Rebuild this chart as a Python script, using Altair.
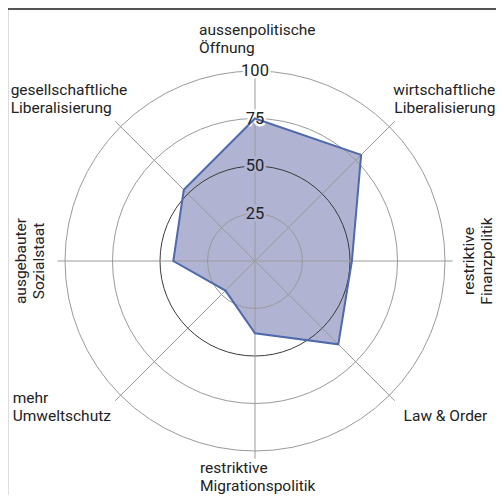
import altair as alt
import pandas as pd
import numpy as np

# ---- data ----
categories = [
    "aussenpolitische\nÖffnung",
    "wirtschaftliche\nLiberalisierung",
    "restriktive\nFinanzpolitik",
    "Law & Order",
    "restriktive\nMigrationspolitik",
    "mehr\nUmweltschutz",
    "ausgebauter\nSozialstaat",
    "gesellschaftliche\nLiberalisierung",
]
values = [75, 79, 51, 62, 38, 22, 43, 53]
ring_values = [25, 50, 75, 100]
tick_labels = ["25", "50", "75", "100"]

# ---- geometry ----
W, H = 488, 487
CX, CY = 247, 253          # centre of the radar in chart pixels
K = 1.9                    # pixels per unit
FONT = "Roboto"
FS = 15.5
LAV = "#b0b3d2"
BLUE = "#4f69ad"
GRID = "#9a9a9a"
TXT = "#222222"

xs = alt.Scale(domain=[-CX / K, (W - CX) / K], range=[0, W], nice=False, zero=False)
ys = alt.Scale(domain=[-(H - CY) / K, CY / K], range=[H, 0], nice=False, zero=False)

n = len(categories)
ang = np.arange(n) * 2 * np.pi / n
df = pd.DataFrame({"cat": categories, "value": values, "order": np.arange(n)})
df["x"] = df["value"] * np.sin(ang)
df["y"] = df["value"] * np.cos(ang)

sp = pd.DataFrame({"order": np.arange(n)})
sp["x0"] = 0.0
sp["y0"] = 0.0
sp["x1"] = 104 * np.sin(ang)
sp["y1"] = 104 * np.cos(ang)
sp["ax"] = 100 * np.sin(ang)
sp["ay"] = 100 * np.cos(ang)
sp["cat"] = categories

rings = pd.DataFrame({"r": ring_values, "lab": tick_labels})

X = lambda f: alt.X(f, scale=xs, axis=None)
Y = lambda f: alt.Y(f, scale=ys, axis=None)

poly_fill = alt.Chart(df).mark_line(
    interpolate="linear-closed", fill=LAV, stroke=LAV, strokeWidth=0.5
).encode(x=X("x:Q"), y=Y("y:Q"), order="order:Q")

circles = alt.Chart(rings).mark_arc(
    filled=False, theta=0, theta2=2 * np.pi, strokeWidth=1
).encode(
    x=alt.X(datum=0, type="quantitative", scale=xs, axis=None),
    y=alt.Y(datum=0, type="quantitative", scale=ys, axis=None),
    radius=alt.Radius("r:Q", stack=False,
                      scale=alt.Scale(type="linear", domain=[0, 100], range=[0, 100 * K], zero=True, nice=False)),
    stroke=alt.condition(alt.datum.r == 50, alt.value("#3a3a3a"), alt.value(GRID)),
)

spokes = alt.Chart(sp).mark_rule(color=GRID, strokeWidth=1).encode(
    x=X("x0:Q"), y=Y("y0:Q"), x2="x1:Q", y2="y1:Q"
)

poly_line = alt.Chart(df).mark_line(
    interpolate="linear-closed", color=BLUE, strokeWidth=2
).encode(x=X("x:Q"), y=Y("y:Q"), order="order:Q")

halo = alt.Chart(rings).mark_text(
    font=FONT, fontSize=FS + 1, align="center", baseline="middle", strokeWidth=5
).encode(
    x=alt.X(datum=0, type="quantitative", scale=xs, axis=None),
    y=Y("r:Q"),
    text="lab:N",
    stroke=alt.condition(alt.datum.r < 70, alt.value(LAV), alt.value("white")),
    fill=alt.condition(alt.datum.r < 70, alt.value(LAV), alt.value("white")),
)
ticks = alt.Chart(rings).mark_text(
    font=FONT, fontSize=FS + 1, align="center", baseline="middle", color=TXT
).encode(
    x=alt.X(datum=0, type="quantitative", scale=xs, axis=None),
    y=Y("r:Q"),
    text="lab:N",
)

# label placement per spoke: align, angle, dx, dy (pixels, text frame)
place = [
    ("left", 0, -56, -36),
    ("right", 0, 106, -32),
    ("center", 270, 0, 29),
    ("right", 0, 98, 26),
    ("left", 0, -55, 22),
    ("left", 0, -108, 8),
    ("center", 270, 0, -39),
    ("left", 0, -110, -32),
]
labels = []
for i, (al, an, dx, dy) in enumerate(place):
    labels.append(
        alt.Chart(sp).transform_filter(alt.datum.order == i).mark_text(
            font=FONT, fontSize=FS, align=al, baseline="alphabetic", angle=an,
            dx=dx, dy=dy, lineBreak="\n", lineHeight=18, color=TXT
        ).encode(x=X("ax:Q"), y=Y("ay:Q"), text="cat:N")
    )

top_rule = alt.Chart(rings).mark_rule(color="#555555", strokeWidth=2).encode(
    x=alt.value(0), x2=alt.value(492), y=alt.value(1)
)

chart = alt.layer(
    poly_fill, circles, spokes, halo, poly_line, ticks, *labels, top_rule
).properties(
    width=W, height=H, padding=0, autosize=alt.AutoSizeParams(type="none")
).configure_view(stroke=None).configure(background="white")

chart.save("out.html", embed_options={"renderer": "svg", "actions": False})
